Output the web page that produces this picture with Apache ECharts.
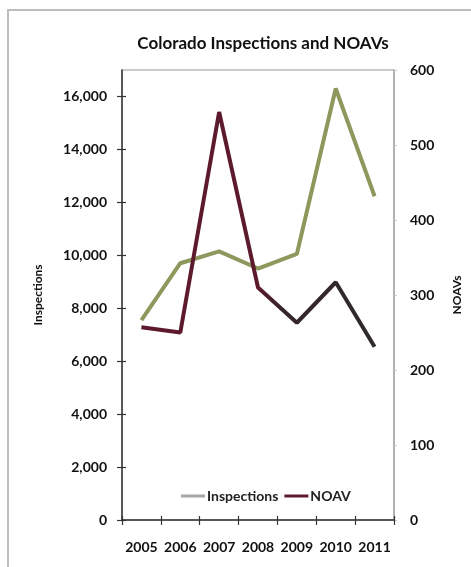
<!DOCTYPE html>
<html><head><meta charset="utf-8">
<script src="https://cdn.jsdelivr.net/npm/echarts@6/dist/echarts.min.js"></script>
<style>html,body{margin:0;padding:0;background:#fff}#c{width:471px;height:567px}</style>
</head><body><div id="c"></div>
<script>
const years = ['2005','2006','2007','2008','2009','2010','2011'];
const inspections = [7550, 9700, 10150, 9500, 10050, 16300, 12230];
const noav = [257, 250, 544, 310, 263, 317, 231];
const leftTicks = [0,2000,4000,6000,8000,10000,12000,14000,16000];
const rightTicks = [0,100,200,300,400,500,600];

const FONT = 'Lato';
const chart = echarts.init(document.getElementById('c'));
chart.setOption({
  animation: false,
  textStyle: {fontFamily: FONT},
  graphic: [{type:'rect', shape:{x:8,y:10,width:480,height:570}, style:{fill:'none', stroke:'#bdbdbd', lineWidth:2}, silent:true}],
  title: {text:'Colorado Inspections and NOAVs', left: 258, top: 30, textAlign:'center',
    textStyle:{fontFamily:FONT, fontSize:17, fontWeight:'bold', color:'#111'}},
  legend: {left: 176, top: 484, itemWidth: 24, itemHeight: 3, itemGap: 6, icon: 'rect',
    textStyle:{fontFamily:FONT, fontSize:14, fontWeight:'bold', color:'#222', padding:[0,0,0,-3]},
    data:[{name:'Inspections', itemStyle:{color:'#a6a6a6'}},
          {name:'NOAV', itemStyle:{color:'#5c1a2c'}}]},
  grid: {left:122, right:75, top:70, bottom:47, show:true, borderColor:'#bbbbbb', borderWidth:1.5},
  xAxis: [
    {type:'category', data: years, boundaryGap:true,
     axisLine:{lineStyle:{color:'#333', width:1.5}},
     axisTick:{show:true, inside:false, length:5, interval:0, lineStyle:{color:'#333', width:1.2}},
     axisLabel:{interval:0, hideOverlap:false, fontFamily:FONT, fontSize:14, fontWeight:'bold', color:'#111', margin:20}},
    {type:'category', data: years, boundaryGap:true, position:'bottom',
     axisLine:{show:false}, axisLabel:{show:false},
     axisTick:{show:true, inside:true, length:4, interval:0, lineStyle:{color:'#333', width:1.2}}}
  ],
  yAxis: [
    {type:'value', min:0, max:17000, name:'Inspections', nameLocation:'middle', nameGap:78, nameRotate:90,
     nameTextStyle:{fontFamily:FONT, fontSize:12, fontWeight:'bold', color:'#111'},
     axisLine:{show:true, lineStyle:{color:'#333', width:1.5}},
     axisTick:{show:true, customValues: leftTicks, length:5, lineStyle:{color:'#333', width:1.2}},
     axisLabel:{customValues: leftTicks, fontFamily:FONT, fontSize:14, fontWeight:'bold', color:'#111', margin:15,
       formatter: v => v.toLocaleString('en-US')},
     splitLine:{show:false}},
    {type:'value', min:0, max:600, interval:100, position:'right', name:'NOAVs', nameLocation:'middle', nameGap:57, nameRotate:90,
     nameTextStyle:{fontFamily:FONT, fontSize:12, fontWeight:'bold', color:'#111'},
     axisLine:{show:true, lineStyle:{color:'#aaaaaa', width:1.5}},
     axisTick:{show:true, length:3, lineStyle:{color:'#cccccc'}},
     axisLabel:{customValues: rightTicks, fontFamily:FONT, fontSize:14, fontWeight:'bold', color:'#111', margin:16},
     splitLine:{show:false}},
    {type:'value', min:0, max:17000, position:'left',
     axisLine:{show:false}, axisLabel:{show:false}, splitLine:{show:false},
     axisTick:{show:true, inside:true, customValues: leftTicks, length:4, lineStyle:{color:'#333', width:1.2}}}
  ],
  series: [
    {name:'Inspections', type:'line', yAxisIndex:0, data: inspections, symbol:'none',
     lineStyle:{width:4, color:'#8c985c'}, itemStyle:{color:'#8c985c'}},
    {name:'NOAV', type:'line', yAxisIndex:1, data: noav, symbol:'none',
     lineStyle:{width:4, color: new echarts.graphic.LinearGradient(0,0,1,0,[
        {offset:0, color:'#5c1a2c'},{offset:0.5, color:'#5c1a2c'},{offset:0.6, color:'#352628'},{offset:1, color:'#2f2a2b'}])},
     itemStyle:{color:'#5c1a2c'}}
  ]
});
</script></body></html>
